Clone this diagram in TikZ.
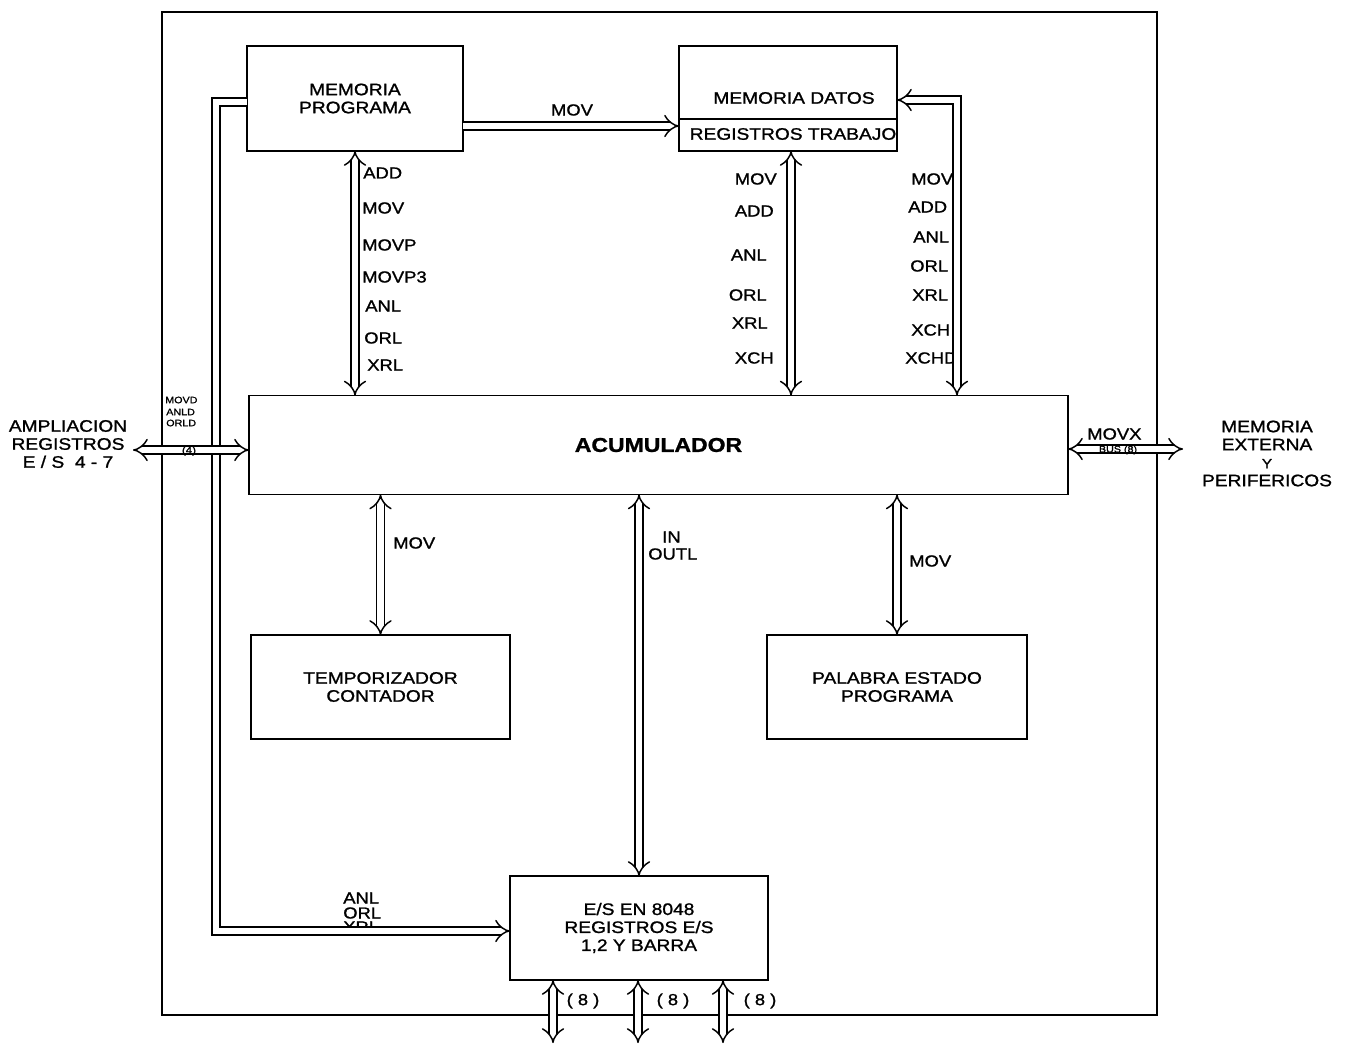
\documentclass[tikz,border=0pt]{standalone}
\usepackage{fontspec}
\setmainfont{Liberation Sans}[FakeStretch=1.15,FakeBold=1.2]
\usetikzlibrary{arrows.meta,calc}
\begin{document}
\begin{tikzpicture}[x=0.75pt,y=-0.75pt,
  box/.style={draw, line width=1.3pt, inner sep=0pt, outer sep=0pt, align=center,
    font=\fontsize{12.5}{13.5}\selectfont},
  lbl/.style={inner sep=0pt, font=\fontsize{12}{13}\selectfont},
  tiny/.style={inner sep=0pt, font=\fontsize{7}{8}\selectfont},
  dbl/.style={draw, double, double distance=4.8pt, line width=1.1pt},
  both/.style={dbl, {Implies}-{Implies}},
  one/.style={dbl, -{Implies}}]
\useasboundingbox (0,0) rectangle (1351,1044);
% outer frame
\draw[line width=1.3pt] (162,12) rectangle (1157,1015);

% boxes
\node[box, minimum width=162pt, minimum height=78.75pt] (mp) at (355,98.5) {MEMORIA\\PROGRAMA};
\node[box, minimum width=163.5pt, minimum height=78.75pt] (md) at (788,98.5) {};
\draw[line width=1.3pt] ($(md.north west)!0.695!(md.south west)$) -- ($(md.north east)!0.695!(md.south east)$);
\node[box, draw=none] (mdt) at (794,98) {MEMORIA DATOS};
\node[box, draw=none] (rt) at (793,134) {REGISTROS TRABAJO};
\node[box, minimum width=614.25pt, minimum height=74.25pt, font=\bfseries\fontsize{15}{17}\selectfont] (acc) at (658.5,445) {ACUMULADOR};
\node[box, minimum width=194.25pt, minimum height=78pt] (tc) at (380.5,687) {TEMPORIZADOR\\CONTADOR};
\node[box, minimum width=195pt, minimum height=78pt] (pe) at (897,687) {PALABRA ESTADO\\PROGRAMA};
\node[box, minimum width=193.5pt, minimum height=78pt] (es) at (639,928) {E/S EN 8048\\REGISTROS E/S\\1,2 Y BARRA};

% outside texts
\node[box, draw=none] (amptxt) at (68,444) {AMPLIACION\\REGISTROS\\E / S \ 4 - 7};
\node[box, draw=none] (exttxt) at (1267,453.5) {MEMORIA\\EXTERNA\\{\fontsize{10}{10}\selectfont Y}\\PERIFERICOS};

% label on top connector
\node[lbl] (mv) at (572,110) {MOV};
% labels PROGRAMA-ACUMULADOR
\node[lbl, anchor=west] (l1) at (363,173) {ADD};
\node[lbl, anchor=west] (l2) at (362,208) {MOV};
\node[lbl, anchor=west] (l3) at (362,245) {MOVP};
\node[lbl, anchor=west] (l4) at (362,277) {MOVP3};
\node[lbl, anchor=west] (l5) at (365,306) {ANL};
\node[lbl, anchor=west] (l6) at (364,338) {ORL};
\node[lbl, anchor=west] (l7) at (367,365) {XRL};
% labels DATOS-ACUMULADOR
\node[lbl, anchor=east] (m1) at (777,179) {MOV};
\node[lbl, anchor=east] (m2) at (774,211) {ADD};
\node[lbl, anchor=east] (m3) at (767,255) {ANL};
\node[lbl, anchor=east] (m4) at (767,295) {ORL};
\node[lbl, anchor=east] (m5) at (768,323) {XRL};
\node[lbl, anchor=east] (m6) at (774,358) {XCH};
% labels right loop
\node[lbl, anchor=west] (r1) at (911,179) {MOV};
\node[lbl, anchor=west] (r2) at (908,207) {ADD};
\node[lbl, anchor=west] (r3) at (913,237) {ANL};
\node[lbl, anchor=west] (r4) at (910,266) {ORL};
\node[lbl, anchor=west] (r5) at (912,295) {XRL};
\node[lbl, anchor=west] (r6) at (911,330) {XCH};
\node[lbl, anchor=west] (r7) at (905,358) {XCHD};
% labels lower
\node[lbl, anchor=west] (t1) at (393,543) {MOV};
\node[lbl, anchor=west] (i1) at (662,537) {IN};
\node[lbl, anchor=west] (i2) at (648,554) {OUTL};
\node[lbl, anchor=west] (p1) at (909,561) {MOV};
\node[lbl, anchor=west] (e1) at (343,898) {ANL};
\node[lbl, anchor=west] (e2) at (343,913) {ORL};
\node[lbl, anchor=west] (e3) at (343,927) {XRL};
\node[tiny, anchor=west] (a1) at (165,400) {MOVD};
\node[tiny, anchor=west] (a2) at (166,412) {ANLD};
\node[tiny, anchor=west] (a3) at (166,423) {ORLD};
\node[lbl, anchor=west] (x1) at (1087,434) {MOVX};

% coordinates
\coordinate (mpE) at (463,126);
\coordinate (mpW) at (247,102);
\coordinate (c1) at (216,102);
\coordinate (c2) at (216,931);
\coordinate (esW) at (510,931);
\coordinate (rc) at (957,100);
\coordinate (amp) at (133,450);
\coordinate (ext) at (1183,449);
\coordinate (b1) at (553,1043);
\coordinate (b2) at (638,1043);
\coordinate (b3) at (723,1043);

% connectors
\draw[one] (mpE) -- (mpE -| md.west);
\draw[both] (mp.south) -- (mp.south |- acc.north);
\draw[both] ($(md.south)+(3,0)$) -- ($(md.south |- acc.north)+(3,0)$);
\draw[both] (acc.north -| rc) -- (rc) -- (rc -| md.east);
\draw[one] (mpW) -- (c1) -- (c2) -- (esW);
\draw[both] (amp) -- (amp -| acc.west);
\draw[both] (ext -| acc.east) -- (ext);
\draw[both] (acc.south -| tc.north) -- (tc.north);
\draw[both] (acc.south -| es.north) -- (es.north);
\draw[both] (acc.south -| pe.north) -- (pe.north);
\draw[both] (es.south -| b1) -- (b1);
\draw[both] (es.south -| b2) -- (b2);
\draw[both] (es.south -| b3) -- (b3);

\node[tiny, font=\fontsize{7.5}{8}\selectfont] (n4) at (189,451) {(4)};
\node[tiny, font=\fontsize{7}{7}\selectfont] (bus) at (1118,450) {BUS (8)};
\node[lbl] (k1) at (583,1001) {( 8 )};
\node[lbl] (k2) at (673,1001) {( 8 )};
\node[lbl] (k3) at (760,1001) {( 8 )};
\end{tikzpicture}
\end{document}
